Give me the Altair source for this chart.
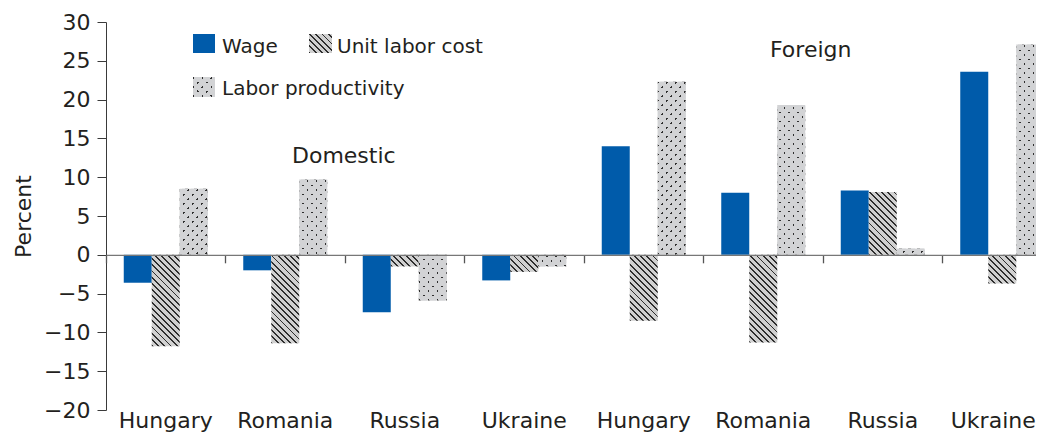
import math
import altair as alt
import pandas as pd

# ---------------- data ----------------
sectors = ["Domestic", "Domestic", "Domestic", "Domestic", "Foreign", "Foreign", "Foreign", "Foreign"]
countries = ["Hungary", "Romania", "Russia", "Ukraine", "Hungary", "Romania", "Russia", "Ukraine"]
series_names = ["Wage", "Unit labor cost", "Labor productivity"]
wage = [-3.6, -2.0, -7.4, -3.3, 14.0, 8.0, 8.3, 23.6]
unit_labor_cost = [-11.8, -11.4, -1.5, -2.2, -8.5, -11.3, 8.1, -3.7]
labor_productivity = [8.5, 9.7, -5.9, -1.5, 22.3, 19.3, 0.8, 27.1]
y_ticks = [-20, -15, -10, -5, 0, 5, 10, 15, 20, 25, 30]
sector_labels = ["Domestic", "Foreign"]

keys = [f"{s}|{c}" for s, c in zip(sectors, countries)]
rows = []
for i, k in enumerate(keys):
    for s, vals in zip(series_names, [wage, unit_labor_cost, labor_productivity]):
        rows.append({"key": k, "series": s, "value": vals[i]})
df = pd.DataFrame(rows)

# ---------------- layout / style ----------------
FONT = "DejaVu Sans"
TXT = "#231f20"
AXC = "#3a3a3a"
BLUE = "#005BAA"
HATCH_BG = "#d0d0d0"
DOT_BG = "#d2d3d5"
DARK = "#2e2e2e"

H = 388
W = 930
YMIN, YMAX = -20, 30
PPU = H / (YMAX - YMIN)
GROUP = 119.5
PAD_OUT = 0.634
BW = GROUP / (3 + 2 * PAD_OUT)
ZERO_PX = YMAX * PPU
R2 = 1 / math.sqrt(2)


def stripes(w, h, nx, ny, period, frac, line, bg):
    corners = [(0.0, 0.0), (w, 0.0), (0.0, h), (w, h)]
    proj = [nx * x + ny * y for x, y in corners]
    lo, hi = min(proj), max(proj)
    L = hi - lo
    p0 = corners[proj.index(lo)]
    D = nx * nx * w * w + ny * ny * h * h
    s = L / D
    x1, y1 = p0[0] / w, p0[1] / h
    x2, y2 = x1 + s * nx * w, y1 + s * ny * h
    step = period / L
    lw = frac * period / L
    stops = []
    a = 0.0
    while a < 1:
        b = min(a + lw, 1.0)
        stops += [(a, line), (b, line)]
        if b < 1:
            c = min(a + step, 1.0)
            stops += [(b, bg), (c, bg)]
        a += step
    return {
        "gradient": "linear",
        "x1": round(x1, 5), "y1": round(y1, 5), "x2": round(x2, 5), "y2": round(y2, 5),
        "stops": [{"offset": round(o, 5), "color": c} for o, c in stops],
    }


def hatch(w, h):
    return stripes(w, h, R2, -R2, 4.4, 0.3, DARK, HATCH_BG)


def dots_base(w, h):
    return stripes(w, h, R2, -R2, 9 * R2, 0.24, DARK, DOT_BG)


def dots_over(w, h):
    return stripes(w, h, R2, R2, 9 * R2, 0.24, "rgba(0,0,0,0)", DOT_BG)


x_scale = alt.Scale(domain=keys, range=[0, GROUP * 8], paddingInner=0, paddingOuter=0)
xo = alt.XOffset("series:N", scale=alt.Scale(domain=series_names, paddingInner=0, paddingOuter=PAD_OUT))
y_scale = alt.Scale(domain=[YMIN, YMAX], nice=False)

y_axis = alt.Axis(
    values=y_ticks, tickSize=9, labelPadding=7, labelFontSize=22, labelFont=FONT,
    labelColor=TXT, titleFontSize=22, titleFont=FONT, titleFontWeight="normal",
    titleColor=TXT, domainColor=AXC, tickColor=AXC, grid=False, titlePadding=8,
)
x_none = alt.X("key:N", sort=keys, scale=x_scale, axis=None)
y_enc = alt.Y("value:Q", scale=y_scale, axis=y_axis, title="Percent")

label_axis = alt.Axis(
    labelExpr="split(datum.label, '|')[1]", labelFontSize=22, labelFont=FONT, labelColor=TXT,
    labelPadding=0, ticks=False, domain=False, labelAngle=0, title=None, orient="bottom",
    labelOffset={"condition": {"test": "datum.index >= 0.99", "value": -9}, "value": 0},
)
zero_axis = alt.Axis(
    labels=False, ticks=True, tickSize=8, tickColor="#555555", tickWidth=1.3,
    domain=True, domainColor="#777777", domainWidth=1.2, bandPosition=0,
    offset=-(H - ZERO_PX), title=None, orient="bottom", zindex=1, grid=False,
)

layers = []
# Wage bars (carry the label axis)
layers.append(
    alt.Chart().transform_filter(alt.datum.series == "Wage").mark_bar(color=BLUE).encode(
        x=alt.X("key:N", sort=keys, scale=x_scale, axis=label_axis),
        xOffset=xo,
        y=y_enc,
    )
)
# Unit labor cost bars (hatched)
for i, k in enumerate(keys):
    h = abs(unit_labor_cost[i]) * PPU
    layers.append(
        alt.Chart().transform_filter(
            (alt.datum.series == "Unit labor cost") & (alt.datum.key == k)
        ).mark_bar(fill=hatch(BW, h)).encode(x=x_none, xOffset=xo, y=y_enc)
    )
# Labor productivity bars (dotted)
for i, k in enumerate(keys):
    h = abs(labor_productivity[i]) * PPU
    flt = (alt.datum.series == "Labor productivity") & (alt.datum.key == k)
    layers.append(alt.Chart().transform_filter(flt).mark_bar(fill=dots_base(BW, h)).encode(
        x=x_none, xOffset=xo, y=y_enc))
    layers.append(alt.Chart().transform_filter(flt).mark_bar(fill=dots_over(BW, h)).encode(
        x=x_none, xOffset=xo, y=y_enc))

# zero line with group separators
layers.append(
    alt.Chart().transform_filter(alt.datum.series == "Wage").mark_bar(opacity=0).encode(
        x=alt.X("key:N", sort=keys, scale=x_scale, axis=zero_axis),
        y=y_enc,
    )
)

# legend
one = alt.Data(values=[{"a": 1}])
SW, SH = 22, 19
layers.append(alt.Chart(one).mark_rect(fill=BLUE).encode(
    x=alt.value(87), x2=alt.value(87 + SW), y=alt.value(12), y2=alt.value(12 + SH)))
layers.append(alt.Chart(one).mark_rect(fill=hatch(SW + 1, SH)).encode(
    x=alt.value(203), x2=alt.value(204 + SW), y=alt.value(12), y2=alt.value(12 + SH)))
layers.append(alt.Chart(one).mark_rect(fill=dots_base(SW, SH + 1)).encode(
    x=alt.value(87), x2=alt.value(87 + SW), y=alt.value(55), y2=alt.value(56 + SH)))
layers.append(alt.Chart(one).mark_rect(fill=dots_over(SW, SH + 1)).encode(
    x=alt.value(87), x2=alt.value(87 + SW), y=alt.value(55), y2=alt.value(56 + SH)))

legend_pos = [(116, 30.5), (231, 30.5), (116, 73)]
for name, (lx, ly) in zip(series_names, legend_pos):
    layers.append(alt.Chart(alt.Data(values=[{"t": name}])).mark_text(
        align="left", baseline="alphabetic", fontSize=20, font=FONT, color=TXT
    ).encode(x=alt.value(lx), y=alt.value(ly), text="t:N"))

sector_pos = [(186, 141), (664, 35)]
for name, (lx, ly) in zip(sector_labels, sector_pos):
    layers.append(alt.Chart(alt.Data(values=[{"t": name}])).mark_text(
        align="left", baseline="alphabetic", fontSize=22, font=FONT, color=TXT
    ).encode(x=alt.value(lx), y=alt.value(ly), text="t:N"))

chart = alt.layer(*layers, data=df).properties(
    width=W, height=H,
    autosize=alt.AutoSizeParams(type="none"),
    padding={"left": 98, "top": 14, "right": 0, "bottom": 24},
).resolve_axis(x="independent").configure(font=FONT).configure_view(stroke=None)

chart.save("out.html", embed_options={"renderer": "svg", "actions": False})
